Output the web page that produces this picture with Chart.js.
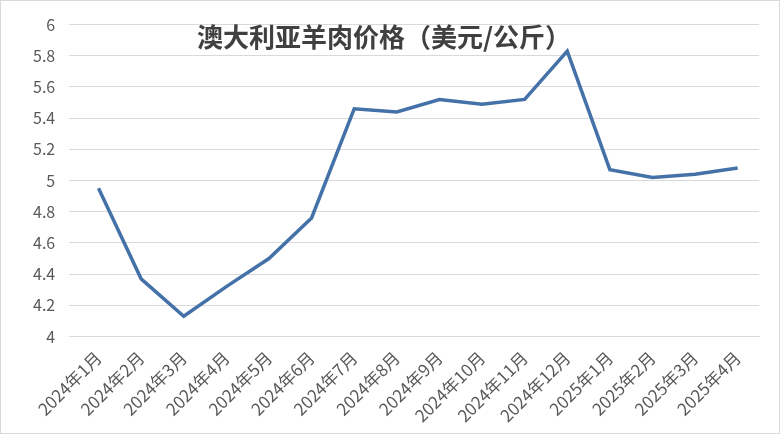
<!DOCTYPE html>
<html>
<head>
<meta charset="utf-8">
<script src="https://cdn.jsdelivr.net/npm/chart.js@4"></script>
<style>
  html, body { margin: 0; padding: 0; background: #fff; }
  #wrap { width: 778px; height: 432px; border: 1px solid #d9d9d9; position: relative; }
</style>
</head>
<body>
<div id="wrap"><canvas id="c"></canvas></div>
<script>
var months = ['2024年1月', '2024年2月', '2024年3月', '2024年4月', '2024年5月', '2024年6月',
    '2024年7月', '2024年8月', '2024年9月', '2024年10月', '2024年11月', '2024年12月',
    '2025年1月', '2025年2月', '2025年3月', '2025年4月'];
var prices = [4.95, 4.37, 4.13, 4.32, 4.50, 4.76, 5.46, 5.44, 5.52, 5.49, 5.52, 5.83, 5.07, 5.02, 5.04, 5.08];
var chartTitle = '澳大利亚羊肉价格（美元/公斤）';

// title sits inside the plot area, so draw it by hand
var titlePlugin = {
    id: 'innerTitle',
    afterDraw: function (chart) {
        var ctx = chart.ctx;
        ctx.save();
        ctx.font = 'bold 26px "Noto Sans CJK SC"';
        ctx.fillStyle = '#404040';
        ctx.textAlign = 'center';
        ctx.textBaseline = 'middle';
        ctx.fillText(chartTitle, 383, 36);
        ctx.restore();
    }
};

new Chart(document.getElementById('c').getContext('2d'), {
    type: 'line',
    data: {
        labels: months,
        datasets: [{
            data: prices,
            borderColor: '#4472a8',
            borderWidth: 3.5,
            pointRadius: 0,
            tension: 0,
            fill: false
        }]
    },
    options: {
        responsive: true,
        maintainAspectRatio: false,
        animation: false,
        layout: { padding: { top: 10, right: 20, left: 18, bottom: 4 } },
        plugins: { legend: { display: false }, tooltip: { enabled: false } },
        scales: {
            x: {
                offset: true,
                grid: { display: false },
                border: { color: '#d9d9d9' },
                ticks: {
                    color: '#595959',
                    font: { size: 17, family: '"Noto Sans CJK SC"' },
                    maxRotation: 45, minRotation: 45, autoSkip: false
                }
            },
            y: {
                min: 4, max: 6,
                grid: { color: '#d9d9d9' },
                border: { display: false },
                ticks: {
                    stepSize: 0.2,
                    color: '#595959',
                    padding: 14,
                    font: { size: 16, family: '"Noto Sans CJK SC"' },
                    callback: function (v) { return String(Math.round(v * 10) / 10); }
                }
            }
        }
    },
    plugins: [titlePlugin]
});
</script>
</body>
</html>
